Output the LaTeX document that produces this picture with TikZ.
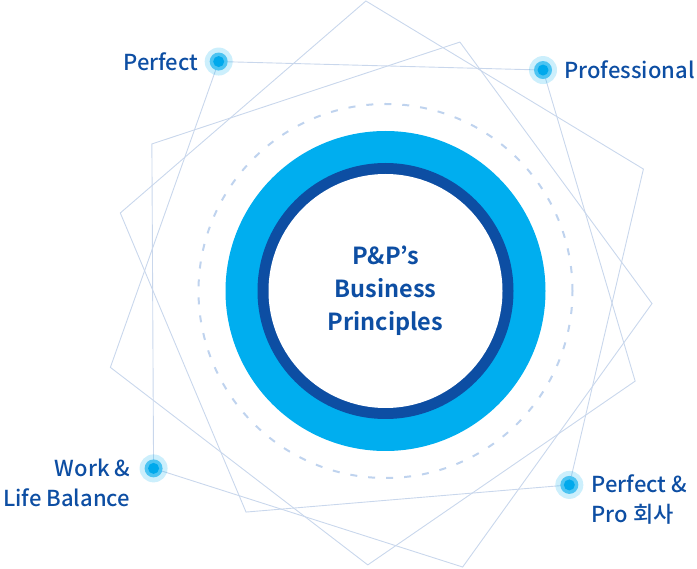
\documentclass[tikz,border=0pt]{standalone}
\usepackage{fontspec}
\setmainfont{Noto Sans CJK KR}[UprightFont=* Medium,BoldFont=* Bold]
\usetikzlibrary{positioning}
\definecolor{skyblue}{HTML}{00AEEF}
\definecolor{navy}{HTML}{0D4EA3}
\definecolor{wire}{HTML}{C9D7EC}
\definecolor{ringgrey}{HTML}{BFD3EE}
\definecolor{spotmid}{HTML}{4DC4F2}
\definecolor{spotcore}{HTML}{00A9EC}

\tikzset{
  edge/.style={draw=wire, line width=0.9pt},
  spot/.style={circle, fill=skyblue, fill opacity=0.2, minimum size=28pt, inner sep=0pt},
  lbl/.style={text=navy, font=\fontsize{22}{30}\selectfont, inner sep=0pt},
  core/.style={text=navy, font=\bfseries\fontsize{23.5}{33}\selectfont, align=center}
}

\begin{document}
\begin{tikzpicture}[x=1pt,y=-1pt]
\useasboundingbox (0,0) rectangle (697,569);

% three pentagons
\foreach \cx/\cy/\rot/\nm in {389/276/94.8/a, 375/289/124.5/b, 376/305/72.3/c}{
  \foreach \i in {0,...,4}
    \path (\cx,\cy) ++({-\rot+72*\i}:276) coordinate (\nm\i);
  \draw[edge] (\nm0) -- (\nm1) -- (\nm2) -- (\nm3) -- (\nm4) -- cycle;
}

% rings
\coordinate (hub) at (385.5,291);
\draw[ringgrey, line width=2pt, dash pattern=on 7pt off 11pt] (hub) circle (187pt);
\fill[skyblue] (hub) circle (160pt);
\fill[navy] (hub) circle (128pt);
\fill[white] (hub) circle (117pt);
\node[core] (title) at (hub) {P\&P’s\\Business\\Principles};

% spots
\node[spot] (perfect) at (b0) {};
\node[spot] (professional) at (b1) {};
\node[spot] (balance) at (c3) {};
\node[spot] (pro) at (a2) {};
\foreach \s in {perfect,professional,balance,pro}{
  \fill[spotmid] (\s) circle (9pt);
  \fill[spotcore] (\s) circle (5.5pt);
}

% labels
\node[lbl, left=6pt of perfect] (tperfect) {Perfect};
\node[lbl, right=7pt of professional] (tprofessional) {Professional};
\node[lbl, align=right, left=9pt of balance, yshift=-15pt] (tbalance) {Work \&\\Life Balance};
\node[lbl, align=left, right=8pt of pro, yshift=-15pt] (tpro) {Perfect \&\\Pro 회사};
\end{tikzpicture}
\end{document}
